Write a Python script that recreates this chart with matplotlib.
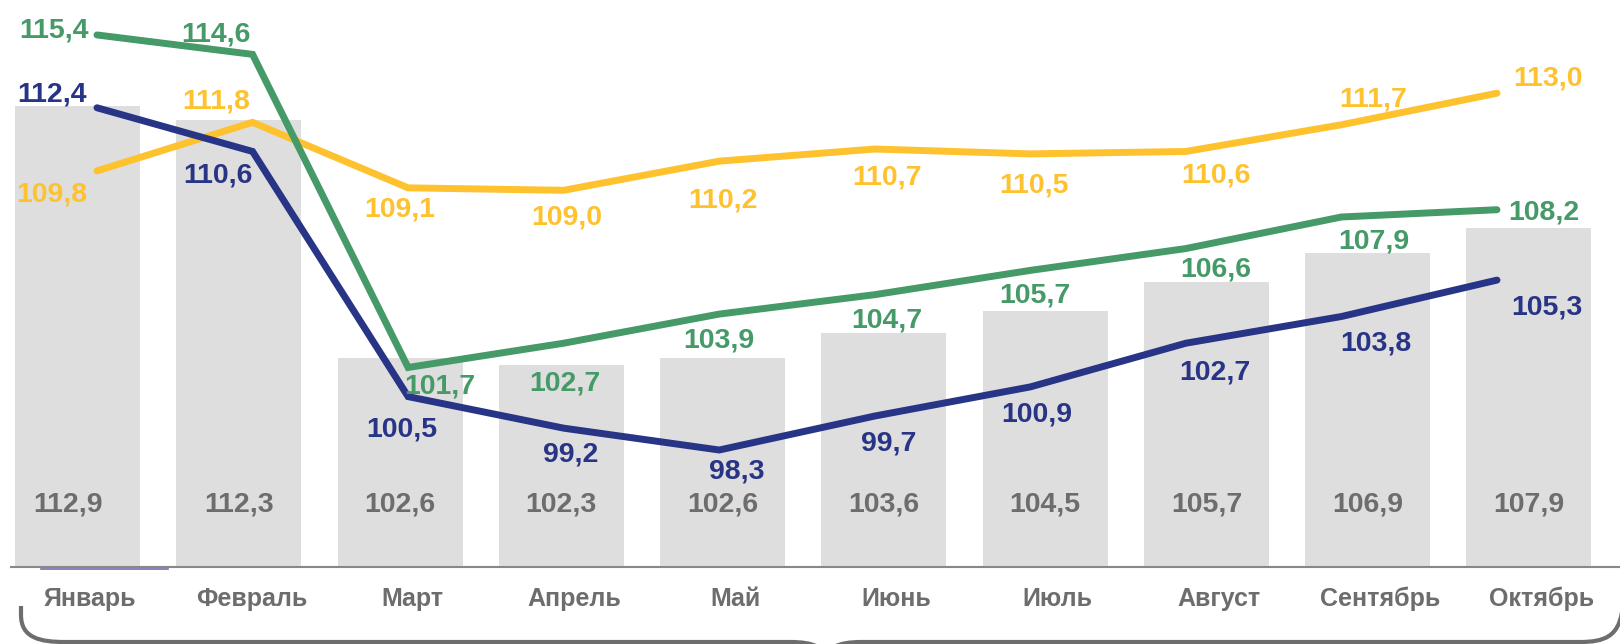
import matplotlib
matplotlib.use('Agg')
import matplotlib.pyplot as plt
from matplotlib.path import Path
from matplotlib.patches import PathPatch
from matplotlib.lines import Line2D
import numpy as np

# data
months = ['Январь', 'Февраль', 'Март', 'Апрель', 'Май', 'Июнь', 'Июль', 'Август', 'Сентябрь', 'Октябрь']
bars = [112.9, 112.3, 102.6, 102.3, 102.6, 103.6, 104.5, 105.7, 106.9, 107.9]
green = [115.4, 114.6, 101.7, 102.7, 103.9, 104.7, 105.7, 106.6, 107.9, 108.2]
navy = [112.4, 110.6, 100.5, 99.2, 98.3, 99.7, 100.9, 102.7, 103.8, 105.3]
yellow = [109.8, 111.8, 109.1, 109.0, 110.2, 110.7, 110.5, 110.6, 111.7, 113.0]

# label offsets in pixels (dx right, dy down) from the point
green_off = [(-43, -7), (-37, -23), (32, 16), (1, 37), (0, 23), (12, 23), (5, 22), (30, 18), (32, 22), (47, 0)]
navy_off = [(-45, -16), (-35, 21), (-6, 30), (7, 23), (18, 18), (14, 24), (6, 25), (29, 26), (34, 24), (50, 24)]
yellow_off = [(-45, 21), (-36, -24), (-8, 19), (3, 24), (4, 36), (12, 25), (4, 29), (30, 21), (32, -28), (51, -18)]

c_green = '#459A68'
c_navy = '#283485'
c_yellow = '#FEC22F'
c_bar = '#DEDEDE'
c_gray = '#6D6D6D'

plt.rcParams['font.family'] = ['Liberation Sans', 'DejaVu Sans']
plt.rcParams['font.weight'] = 'bold'

W, H = 1620, 644
fig = plt.figure(figsize=(W / 100, H / 100), dpi=100)
rect = [11 / W, (H - 567) / H, (W - 11) / W, 567 / H]

x = np.arange(len(months))

# bars on their own axes
ax = fig.add_axes(rect)
ax.bar(x, bars, width=0.775, color=c_bar, bottom=0)
ax.set_xlim(-0.4125, 9.5645)
ax.set_ylim(94.07, 117.21)
for s in ['top', 'right', 'left']:
    ax.spines[s].set_visible(False)
ax.spines['bottom'].set_color('#888888')
ax.spines['bottom'].set_linewidth(1.5)
ax.set_yticks([])
ax.set_xticks([])

for i, v in enumerate(bars):
    dx = -10 if i == 0 else 0
    ax.annotate(f'{v:.1f}'.replace('.', ','), xy=(i, 0), xycoords=('data', 'axes fraction'),
                xytext=(dx, 55), textcoords='offset pixels', ha='center', va='baseline',
                fontsize=20.5, fontweight='bold', color=c_gray)

for i, m in enumerate(months):
    ax.annotate(m, xy=(i, 0), xycoords=('data', 'axes fraction'),
                xytext=(12.5, -39), textcoords='offset pixels', ha='center', va='baseline',
                fontsize=18, fontweight='bold', color=c_gray, annotation_clip=False)

# lines on secondary axes
ax2 = fig.add_axes(rect)
ax2.patch.set_visible(False)
ax2.axis('off')
ax2.set_xlim(-0.5528, 9.7907)
ax2.set_ylim(93.48, 116.84)

for vals, col, offs in [(yellow, c_yellow, yellow_off), (navy, c_navy, navy_off), (green, c_green, green_off)]:
    ax2.plot(x, vals, color=col, linewidth=5, solid_capstyle='round', solid_joinstyle='miter')
    for i, v in enumerate(vals):
        ax2.annotate(f'{v:.1f}'.replace('.', ','), xy=(i, v), xytext=(offs[i][0], -offs[i][1] - 10),
                     textcoords='offset pixels', ha='center', va='baseline',
                     fontsize=20.5, fontweight='bold', color=col, annotation_clip=False)

# small purple line under first bar
def px(xp, yp):
    return xp / 100, (H - yp) / 100

fig.add_artist(Line2D([41 / W, 168 / W], [(H - 569) / H, (H - 569) / H], color='#7b68b0', linewidth=1.2))

# curly brace at the bottom
pts = [px(21, 606), px(21, 615), px(21, 638), px(40, 642), px(65, 642), px(790, 642),
       px(815, 642), px(826, 648), px(826, 662)]
codes = [Path.MOVETO, Path.LINETO, Path.CURVE4, Path.CURVE4, Path.CURVE4, Path.LINETO,
         Path.CURVE4, Path.CURVE4, Path.CURVE4]
fig.add_artist(PathPatch(Path(pts, codes), facecolor='none', edgecolor=c_gray, linewidth=3,
                         transform=fig.dpi_scale_trans))
pts = [px(826, 662), px(826, 648), px(837, 642), px(862, 642), px(1580, 642),
       px(1605, 642), px(1618, 636), px(1622, 612)]
codes = [Path.MOVETO, Path.CURVE4, Path.CURVE4, Path.CURVE4, Path.LINETO,
         Path.CURVE4, Path.CURVE4, Path.CURVE4]
fig.add_artist(PathPatch(Path(pts, codes), facecolor='none', edgecolor=c_gray, linewidth=3,
                         transform=fig.dpi_scale_trans))

fig.savefig('out.png', dpi=100)
